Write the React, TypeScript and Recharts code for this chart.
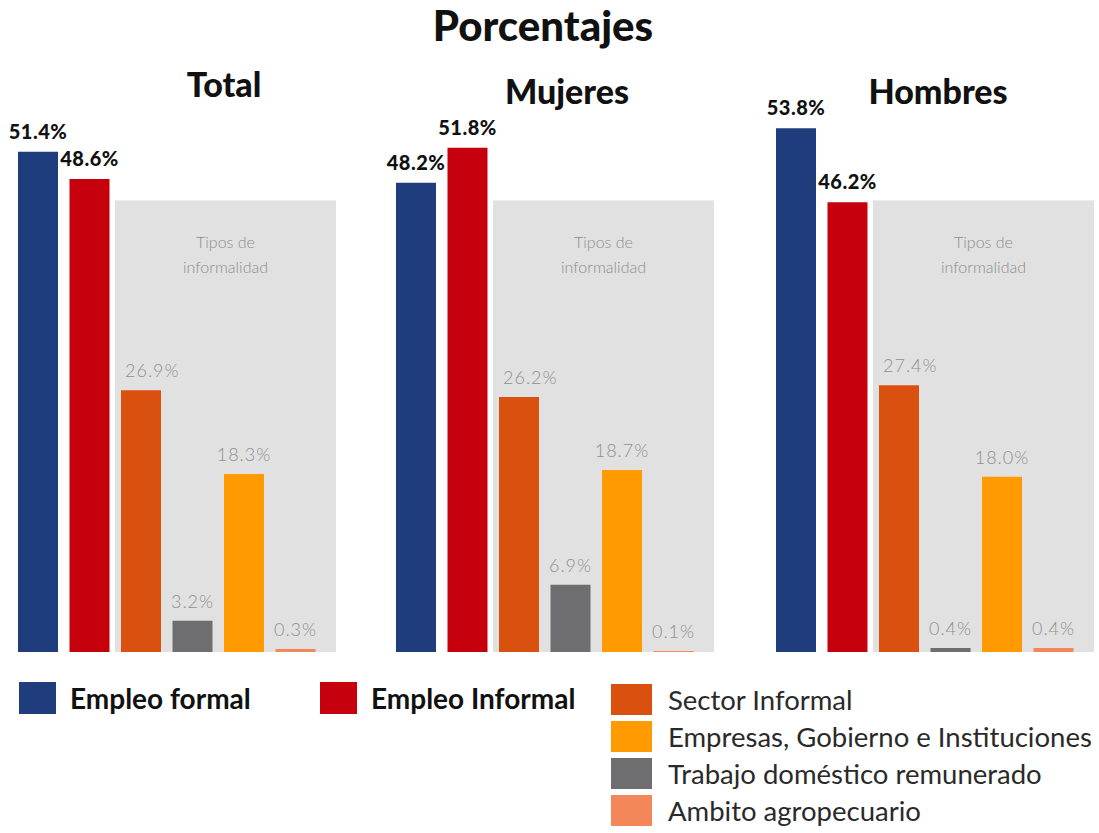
import React from 'react';
import { BarChart, Bar, XAxis, YAxis, Cell, LabelList, ReferenceArea } from 'recharts';

// bar order inside each panel
const categories = [
  'Empleo formal',
  'Empleo Informal',
  'Sector Informal',
  'Trabajo doméstico remunerado',
  'Empresas, Gobierno e Instituciones',
  'Ambito agropecuario',
];
const totalValues = [51.4, 48.6, 26.9, 3.2, 18.3, 0.3];
const mujeresValues = [48.2, 51.8, 26.2, 6.9, 18.7, 0.1];
const hombresValues = [53.8, 46.2, 27.4, 0.4, 18.0, 0.4];
const panelTitles = ['Total', 'Mujeres', 'Hombres'];

const colors: Record<string, string> = {
  'Empleo formal': '#1f3c7c',
  'Empleo Informal': '#c7000d',
  'Sector Informal': '#d9500f',
  'Trabajo doméstico remunerado': '#6e6e70',
  'Empresas, Gobierno e Instituciones': '#ff9b00',
  'Ambito agropecuario': '#f4875a',
};

const legendMain = ['Empleo formal', 'Empleo Informal'];
const legendTypes = [
  'Sector Informal',
  'Empresas, Gobierno e Instituciones',
  'Trabajo doméstico remunerado',
  'Ambito agropecuario',
];

const FONT = 'Lato, "Open Sans", sans-serif';

const renderBox = (props: any) => {
  const { x, y, width, height } = props;
  const w = width + 15;
  return (
    <g>
      <rect x={x} y={y} width={w} height={height} fill="#e1e1e1" />
      <text
        x={x + w / 2}
        y={y + 48}
        textAnchor="middle"
        fontFamily={FONT}
        fontSize={16}
        fontWeight={300}
        fill="#8d8d8d"
      >
        Tipos de
      </text>
      <text
        x={x + w / 2}
        y={y + 73}
        textAnchor="middle"
        fontFamily={FONT}
        fontSize={16}
        fontWeight={300}
        fill="#8d8d8d"
      >
        informalidad
      </text>
    </g>
  );
};

const renderLabel = (props: any) => {
  const { x, y, width, value, index } = props;
  const main = index < 2;
  const cx = index === 2 ? x + 4 : x + width / 2;
  return (
    <text
      x={cx}
      y={y - 13}
      textAnchor={index === 2 ? 'start' : 'middle'}
      fontFamily={FONT}
      fontSize={main ? 20 : 18}
      fontWeight={main ? 900 : 300}
      letterSpacing={main ? 0.5 : 1}
      fill={main ? '#111' : '#8f8f8f'}
    >
      {value.toFixed(1)}%
    </text>
  );
};

const Panel: React.FC<{ values: number[]; left: number }> = ({ values, left }) => {
  const data = categories.map((name, i) => ({ name, value: values[i] }));
  return (
    <div style={{ position: 'absolute', left: left - 12, top: 68 }}>
      <BarChart
        width={336}
        height={584}
        data={data}
        margin={{ top: 0, right: 15, bottom: 0, left: 12 }}
        barCategoryGap={0}
      >
        <XAxis dataKey="name" type="category" hide />
        <YAxis type="number" domain={[0, 60]} hide allowDataOverflow />
        <ReferenceArea
          x1="Sector Informal"
          x2="Ambito agropecuario"
          y1={0}
          y2={46.4}
          shape={renderBox}
        />
        <Bar dataKey="value" barSize={40} isAnimationActive={false}>
          {data.map((d) => (
            <Cell key={d.name} fill={colors[d.name]} />
          ))}
          <LabelList dataKey="value" content={renderLabel} />
        </Bar>
      </BarChart>
    </div>
  );
};

export default function App() {
  const titlePos = [
    { x: 224, y: 85 },
    { x: 567, y: 92 },
    { x: 938, y: 92 },
  ];
  return (
    <div
      style={{
        position: 'absolute',
        left: 0,
        top: 0,
        width: 1099,
        height: 833,
        background: '#fff',
        fontFamily: FONT,
        overflow: 'hidden',
      }}
    >
      <div
        style={{
          position: 'absolute',
          left: 0,
          width: 1086,
          top: 0,
          textAlign: 'center',
          fontSize: 42,
          fontWeight: 900,
          color: '#111',
          lineHeight: '50px',
        }}
      >
        Porcentajes
      </div>
      {panelTitles.map((t, i) => (
        <div
          key={t}
          style={{
            position: 'absolute',
            left: titlePos[i].x - 100,
            width: 200,
            top: titlePos[i].y - 21,
            textAlign: 'center',
            fontSize: 34,
            fontWeight: 900,
            color: '#111',
            lineHeight: '40px',
          }}
        >
          {t}
        </div>
      ))}

      <Panel values={totalValues} left={12} />
      <Panel values={mujeresValues} left={390} />
      <Panel values={hombresValues} left={770} />

      {legendMain.map((name, i) => (
        <div
          key={name}
          style={{
            position: 'absolute',
            left: i === 0 ? 19 : 320,
            top: 681,
            display: 'flex',
            alignItems: 'center',
          }}
        >
          <div style={{ width: 37, height: 32, background: colors[name] }} />
          <span
            style={{
              marginLeft: 14,
              fontSize: 28,
              fontWeight: 700,
              color: '#111',
              whiteSpace: 'nowrap',
            }}
          >
            {name}
          </span>
        </div>
      ))}

      {legendTypes.map((name, i) => (
        <div
          key={name}
          style={{
            position: 'absolute',
            left: 611,
            top: 683 + i * 37,
            display: 'flex',
            alignItems: 'center',
            height: 32,
          }}
        >
          <div style={{ width: 41, height: 31, background: colors[name] }} />
          <span
            style={{
              marginLeft: 16,
              fontSize: 27.5,
              fontWeight: 400,
              color: '#2a2a2a',
              whiteSpace: 'nowrap',
            }}
          >
            {name}
          </span>
        </div>
      ))}
    </div>
  );
}
